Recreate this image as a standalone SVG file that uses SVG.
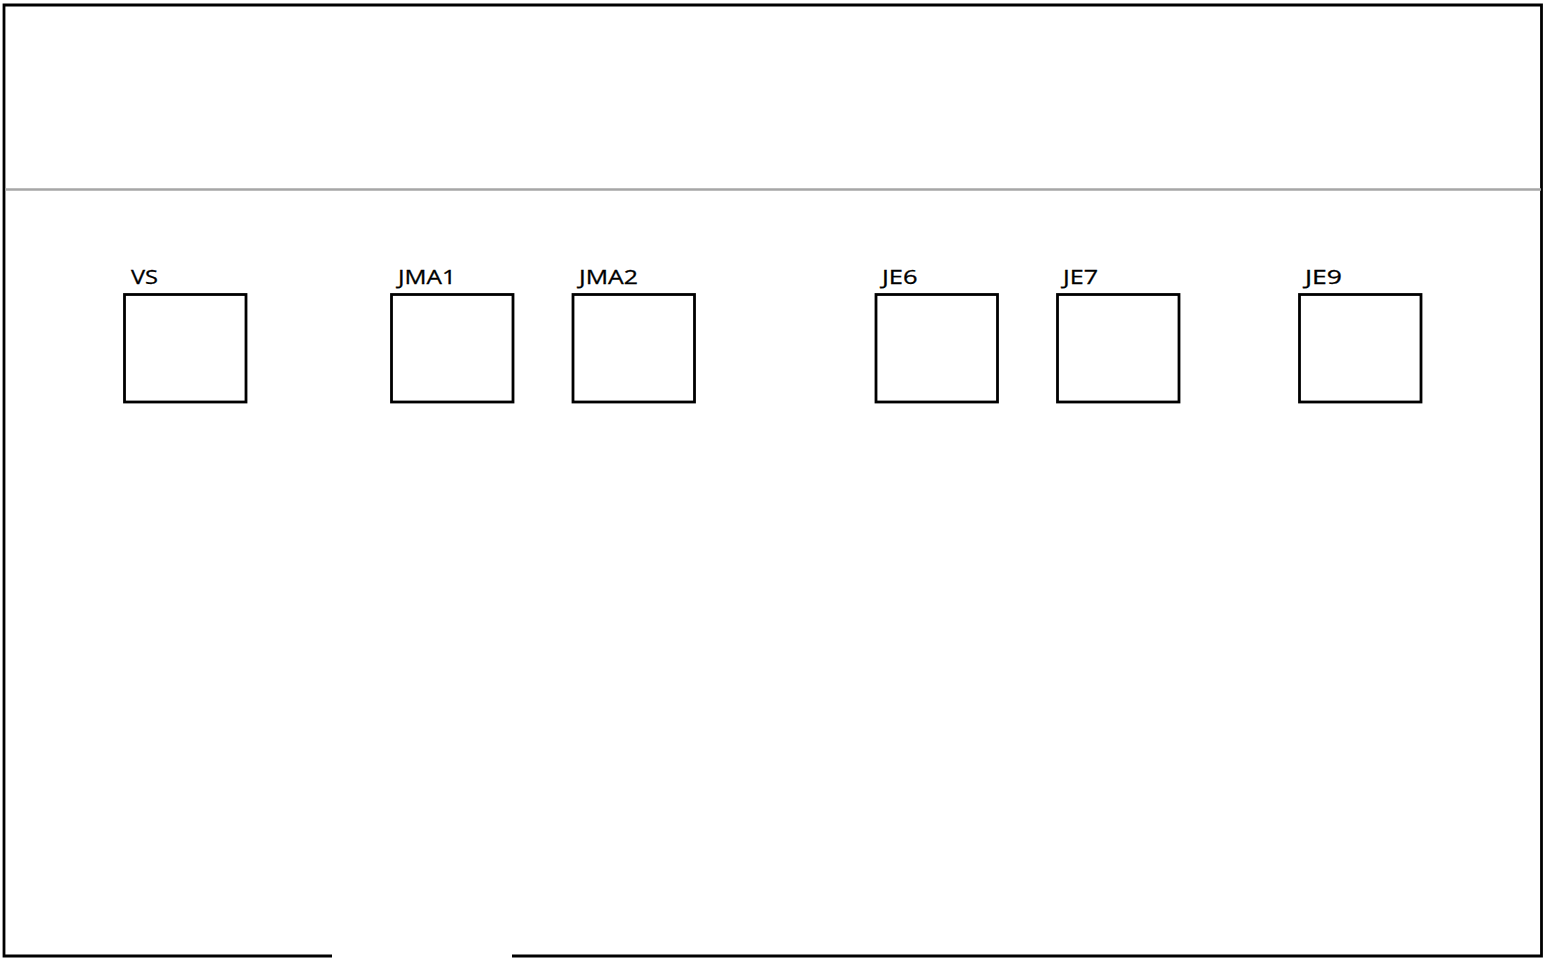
<svg xmlns="http://www.w3.org/2000/svg" width="1547" height="958" viewBox="0 0 1547 958">
<style>
.frame{fill:none;stroke:#000;stroke-width:2.8}
.box{fill:#fff;stroke:#000;stroke-width:2.8}
.sep{stroke:#a6a6a6;stroke-width:2.5}
.lbl{font-family:"Open Sans","Liberation Sans",sans-serif;font-size:20px;fill:#000;stroke:#000;stroke-width:0.3}
</style>
<rect x="0" y="0" width="1547" height="958" fill="#fff"/>
<g id="frame">
<path class="frame" d="M332,956 L4,956 L4,5 L1541.5,5 L1541.5,956 L512,956"/>
<line class="sep" x1="5" y1="189.5" x2="1541" y2="189.5"/>
</g>
<g id="connectors"></g>
<g id="VS"><rect class="box" x="124.5" y="294.5" width="121.5" height="107.5"/><text class="lbl" x="131" y="284" textLength="27" lengthAdjust="spacingAndGlyphs">VS</text></g>
<g id="JMA1"><rect class="box" x="391.5" y="294.5" width="121.5" height="107.5"/><text class="lbl" x="398" y="284" textLength="58" lengthAdjust="spacingAndGlyphs">JMA1</text></g>
<g id="JMA2"><rect class="box" x="573" y="294.5" width="121.5" height="107.5"/><text class="lbl" x="579" y="284" textLength="59" lengthAdjust="spacingAndGlyphs">JMA2</text></g>
<g id="JE6"><rect class="box" x="876" y="294.5" width="121.5" height="107.5"/><text class="lbl" x="882" y="284" textLength="35.5" lengthAdjust="spacingAndGlyphs">JE6</text></g>
<g id="JE7"><rect class="box" x="1057.5" y="294.5" width="121.5" height="107.5"/><text class="lbl" x="1063" y="284" textLength="35" lengthAdjust="spacingAndGlyphs">JE7</text></g>
<g id="JE9"><rect class="box" x="1299.5" y="294.5" width="121.5" height="107.5"/><text class="lbl" x="1305" y="284" textLength="37" lengthAdjust="spacingAndGlyphs">JE9</text></g>
</svg>
